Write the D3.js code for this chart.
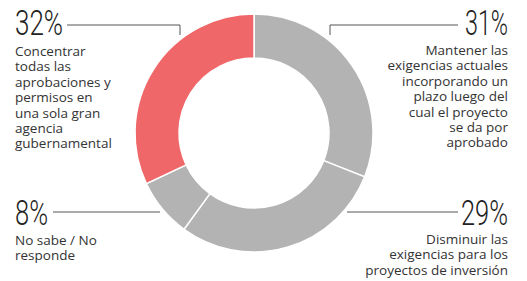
<!DOCTYPE html>
<html>
<head>
<meta charset="utf-8">
<script src="https://cdn.jsdelivr.net/npm/d3@7"></script>
<style>
  body { margin: 0; background: #fff; }
  svg { display: block; }
</style>
</head>
<body>
<div id="chart-area"></div>
<script>
// survey answers, clockwise from the top
var answers = ["mantener", "disminuir", "nosabe", "concentrar"];
var values = [31, 29, 8, 32];
var pctLabels = ["31%", "29%", "8%", "32%"];
var textLines = [
    ["Mantener las", "exigencias actuales", "incorporando un", "plazo luego del", "cual el proyecto", "se da por", "aprobado"],
    ["Disminuir las", "exigencias para los", "proyectos de inversión"],
    ["No sabe / No", "responde"],
    ["Concentrar", "todas las", "aprobaciones y", "permisos en", "una sola gran", "agencia", "gubernamental"]
];
var highlight = "concentrar";

var width = 527, height = 281;
var cx = 254, cy = 133, outerR = 119, innerR = 75;

// label layout: pct position, text anchor, leader line points
var layout = [
    { x: 508, y: 35, anchor: "end", pctW: 43, textY: 55, line: [[458, 25], [330, 25], [330, 35]] },
    { x: 508, y: 225, anchor: "end", pctW: 47, textY: 244, line: [[458, 212], [347, 212]] },
    { x: 15, y: 225, anchor: "start", pctW: 33, textY: 245, line: [[53, 212], [160, 212]] },
    { x: 15, y: 35, anchor: "start", pctW: 48, textY: 56, line: [[67, 25], [180, 25], [180, 35]] }
];

var svg = d3.select("#chart-area")
    .append("svg")
        .attr("width", width)
        .attr("height", height);

var pie = d3.pie().sort(null).value(function(d){ return d; });
var arc = d3.arc().innerRadius(innerR).outerRadius(outerR);

var g = svg.append("g")
    .attr("transform", "translate(" + cx + "," + cy + ")");

g.selectAll("path")
    .data(pie(values))
    .enter()
    .append("path")
        .attr("d", arc)
        .attr("fill", function(d, i){ return answers[i] == highlight ? "#ef6769" : "#b3b3b3"; })
        .attr("stroke", "#fff")
        .attr("stroke-width", 1.5);

// leader lines
var line = d3.line();
svg.selectAll(".leader")
    .data(layout)
    .enter()
    .append("path")
        .attr("class", "leader")
        .attr("d", function(d){ return line(d.line); })
        .attr("fill", "none")
        .attr("stroke", "#555")
        .attr("stroke-width", 1);

// big percentages
svg.selectAll(".pct")
    .data(pctLabels)
    .enter()
    .append("text")
        .attr("class", "pct")
        .attr("x", function(d, i){ return layout[i].x; })
        .attr("y", function(d, i){ return layout[i].y; })
        .attr("text-anchor", function(d, i){ return layout[i].anchor; })
        .attr("textLength", function(d, i){ return layout[i].pctW; })
        .attr("lengthAdjust", "spacingAndGlyphs")
        .attr("font-family", "Roboto, sans-serif")
        .attr("font-weight", 300)
        .attr("font-size", "35px")
        .attr("fill", "#222")
        .text(function(d){ return d; });

// descriptions
textLines.forEach(function(lines, i) {
    var t = svg.append("text")
        .attr("text-anchor", layout[i].anchor)
        .attr("font-family", "'Open Sans', sans-serif")
        .attr("font-size", "13.5px")
        .attr("fill", "#333");
    lines.forEach(function(s, j) {
        t.append("tspan")
            .attr("x", layout[i].x)
            .attr("y", layout[i].textY + j * 15.4)
            .text(s);
    });
});
</script>
</body>
</html>
